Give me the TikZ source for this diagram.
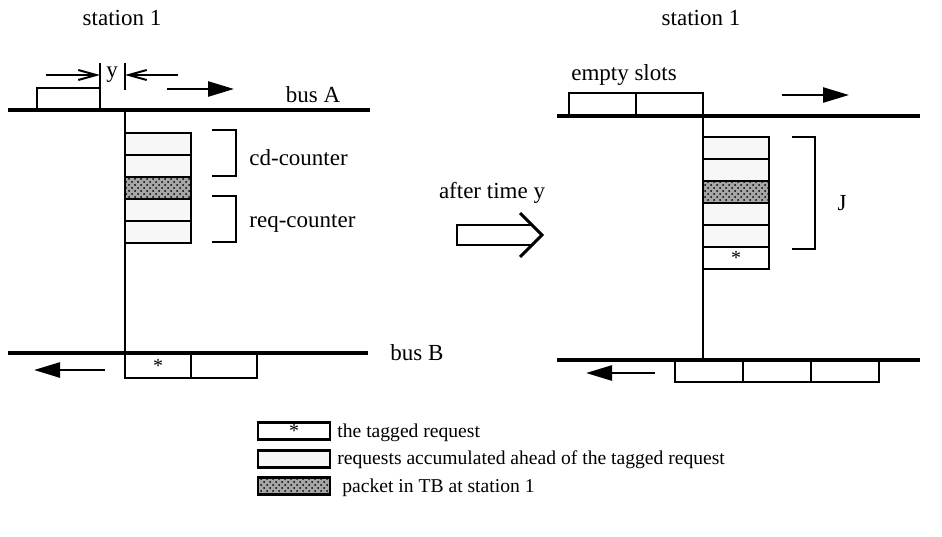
\documentclass[tikz,border=0pt]{standalone}
\usepackage{fontspec}
\setmainfont{Liberation Serif}
\usetikzlibrary{arrows.meta,positioning,patterns}

\begin{document}
\begin{tikzpicture}[x=0.5pt,y=-0.5pt,
    node distance=0pt,
    cell/.style={draw,line width=0.9pt,inner sep=0pt,outer sep=0pt,
      minimum width=33pt,minimum height=11pt,font=\fontsize{10}{10}\selectfont},
    req/.style={cell,fill=black!3},
    tb/.style={cell,preaction={fill=black!35},pattern=crosshatch dots,pattern color=black},
    bus/.style={line width=2pt},
    wire/.style={line width=0.9pt},
    flow/.style={-{Triangle[length=13pt,width=7.5pt]},line width=1.3pt},
    gap/.style={-{Straight Barb[length=9pt,width=5pt]},line width=1pt},
    bracket/.style={line width=1.2pt},
    lbl/.style={font=\fontsize{11.5}{13}\selectfont,inner sep=1pt},
    legend/.style={font=\fontsize{9.8}{11}\selectfont,anchor=west,inner sep=1pt}]
    \useasboundingbox (0,0) rectangle (942,536);
    % left: station 1 now
    \node[lbl] (st1) at (122,18) {station 1};
    \coordinate (lA0) at (8,110);
    \coordinate (lA1) at (370,110);
    \coordinate (lB0) at (8,353);
    \coordinate (lB1) at (368,353);
    \coordinate (lAs) at (125,110);
    \coordinate (lBs) at (125,353);
    \draw[bus] (lA0) -- (lA1);
    \draw[bus] (lB0) -- (lB1);
    \draw[wire] (lAs) -- (lBs);
    \node[lbl] (busA) at (313,95) {bus A};
    \node[lbl,anchor=west] (busB) at (388,353) {bus B};
    \node[cell,minimum width=31.5pt,anchor=south east] (slotA) at (100,110) {};
    \coordinate (yl) at (100,63);
    \coordinate (yr) at (125,63);
    \coordinate (yrb) at (125,90);
    \draw[wire] (slotA.north east) -- (yl);
    \draw[wire] (yr) -- (yrb);
    \node[lbl] (ylab) at (112,75) {y};
    \coordinate (gl0) at (46,75);
    \coordinate (gl1) at (100,75);
    \coordinate (gr0) at (178,75);
    \coordinate (gr1) at (125,75);
    \draw[gap] (gl0) -- (gl1);
    \draw[gap] (gr0) -- (gr1);
    \coordinate (fa0) at (167,89);
    \coordinate (fa1) at (234,89);
    \draw[flow] (fa0) -- (fa1);
    \node[req,anchor=north west] (l1) at (125,133) {};
    \node[req,below=of l1] (l2) {};
    \node[tb,below=of l2] (l3) {};
    \node[req,below=of l3] (l4) {};
    \node[req,below=of l4] (l5) {};
    \draw[bracket] (212,130) -- (236,130) -- (236,176) -- (212,176);
    \draw[bracket] (212,196) -- (236,196) -- (236,242) -- (212,242);
    \node[lbl,anchor=west] (cd) at (247,158) {cd-counter};
    \node[lbl,anchor=west] (rq) at (247,223) {req-counter};
    \node[cell,minimum height=12.5pt,anchor=north west] (lb1) at (125,353) {\raisebox{-0.6ex}{*}};
    \node[cell,minimum height=12.5pt,right=of lb1] (lb2) {};
    \coordinate (fb0) at (105,370);
    \coordinate (fb1) at (34,370);
    \draw[flow] (fb0) -- (fb1);
    % middle
    \node[lbl] (after) at (492,193) {after time y};
    \draw[line width=1pt] (532,225) -- (457,225) -- (457,245) -- (532,245);
    \draw[line width=1.5pt] (520,213) -- (542,235) -- (520,257);
    % right: station 1 after time y
    \node[lbl] (st2) at (701,18) {station 1};
    \coordinate (rA0) at (557,116);
    \coordinate (rA1) at (920,116);
    \coordinate (rB0) at (557,360);
    \coordinate (rB1) at (920,360);
    \coordinate (rAs) at (703,116);
    \coordinate (rBs) at (703,360);
    \draw[bus] (rA0) -- (rA1);
    \draw[bus] (rB0) -- (rB1);
    \draw[wire] (rAs) -- (rBs);
    \node[cell,minimum width=33.5pt,minimum height=11.5pt,anchor=south east] (es2) at (703,116) {};
    \node[cell,minimum width=33.5pt,minimum height=11.5pt,left=of es2] (es1) {};
    \node[lbl] (empty) at (624,75) {empty slots};
    \coordinate (fr0) at (782,95);
    \coordinate (fr1) at (849,95);
    \draw[flow] (fr0) -- (fr1);
    \node[req,anchor=north west] (r1) at (703,137) {};
    \node[req,below=of r1] (r2) {};
    \node[tb,below=of r2] (r3) {};
    \node[req,below=of r3] (r4) {};
    \node[req,below=of r4] (r5) {};
    \node[cell,below=of r5] (r6) {\raisebox{-0.6ex}{*}};
    \draw[bracket] (792,137) -- (815,137) -- (815,249) -- (792,249);
    \node[lbl] (J) at (842,203) {J};
    \node[cell,minimum width=34pt,anchor=north west] (rb1) at (675,360) {};
    \node[cell,minimum width=34pt,right=of rb1] (rb2) {};
    \node[cell,minimum width=34pt,right=of rb2] (rb3) {};
    \coordinate (fc0) at (655,373);
    \coordinate (fc1) at (586,373);
    \draw[flow] (fc0) -- (fc1);
    % legend
    \node[cell,line width=1.2pt,minimum width=36pt,minimum height=8.5pt,anchor=west] (k1) at (258,431) {\raisebox{-0.5ex}{*}};
    \node[req,line width=1.2pt,minimum width=36pt,minimum height=8.5pt,anchor=west] (k2) at (258,459) {};
    \node[tb,line width=1.2pt,minimum width=36pt,minimum height=8.5pt,anchor=west] (k3) at (258,486) {};
    \node[legend] (t1) at (335,433) {the tagged request};
    \node[legend] (t2) at (335,460) {requests accumulated ahead of the tagged request};
    \node[legend] (t3) at (340,488) {packet in TB at station 1};
\end{tikzpicture}
\end{document}
